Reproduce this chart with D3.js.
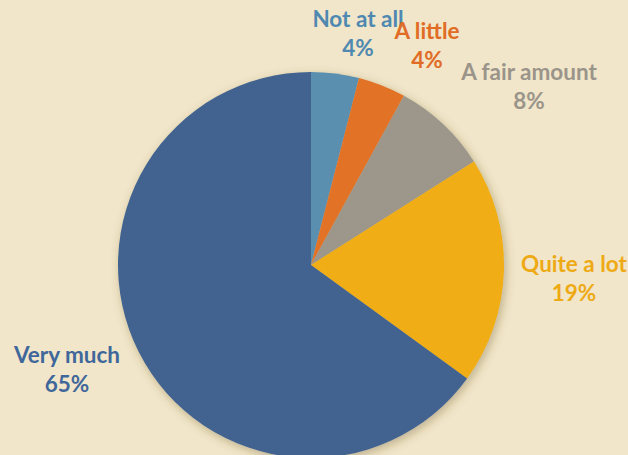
<!DOCTYPE html>
<html><head><meta charset="utf-8">
<script src="https://cdn.jsdelivr.net/npm/d3@7"></script>
<style>html,body{margin:0;padding:0;background:#f1e6c9;overflow:hidden}</style>
</head><body><svg id="c" width="628" height="455"></svg>
<script>
const categories = ["Not at all", "A little", "A fair amount", "Quite a lot", "Very much"];
const values = [4, 4, 8, 19, 65];
const percentLabels = ["4%", "4%", "8%", "19%", "65%"];
const sliceColors = ["#5a8fb0", "#e27327", "#9c968b", "#f0ad12", "#42648f"];
const textColors = ["#4f88b0", "#e06c25", "#9a948a", "#eeaa15", "#3f679b"];
// label anchor positions (layout)
const labelPos = [[358, 27], [427, 39], [529, 80], [574, 272], [67, 363]];

const W = 628, H = 455, cx = 311, cy = 265, R = 193;
const svg = d3.select("#c");
svg.append("rect").attr("width", W).attr("height", H).attr("fill", "#f1e6c9");
const defs = svg.append("defs");
const f = defs.append("filter").attr("id", "sh").attr("x", "-20%").attr("y", "-20%").attr("width", "140%").attr("height", "140%");
f.append("feDropShadow").attr("dx", 2).attr("dy", 3).attr("stdDeviation", 5).attr("flood-color", "#5a4a20").attr("flood-opacity", 0.35);

const pie = d3.pie().sort(null).value(d => d)(values);
const arc = d3.arc().innerRadius(0).outerRadius(R);
const g = svg.append("g").attr("transform", `translate(${cx},${cy})`);
const sg = g.append("g").attr("filter", "url(#sh)");
sg.selectAll("path").data(pie).join("path")
  .attr("d", arc).attr("fill", (d, i) => sliceColors[i]);

const lg = svg.append("g").attr("font-family", "Lato, 'Open Sans', sans-serif").attr("font-weight", "bold").attr("font-size", 22.5).attr("text-anchor", "middle");
categories.forEach((c, i) => {
  const t = lg.append("text").attr("fill", textColors[i]);
  t.append("tspan").attr("x", labelPos[i][0]).attr("y", labelPos[i][1]).text(c);
  t.append("tspan").attr("x", labelPos[i][0]).attr("y", labelPos[i][1] + 29).text(percentLabels[i]);
});
</script></body></html>
